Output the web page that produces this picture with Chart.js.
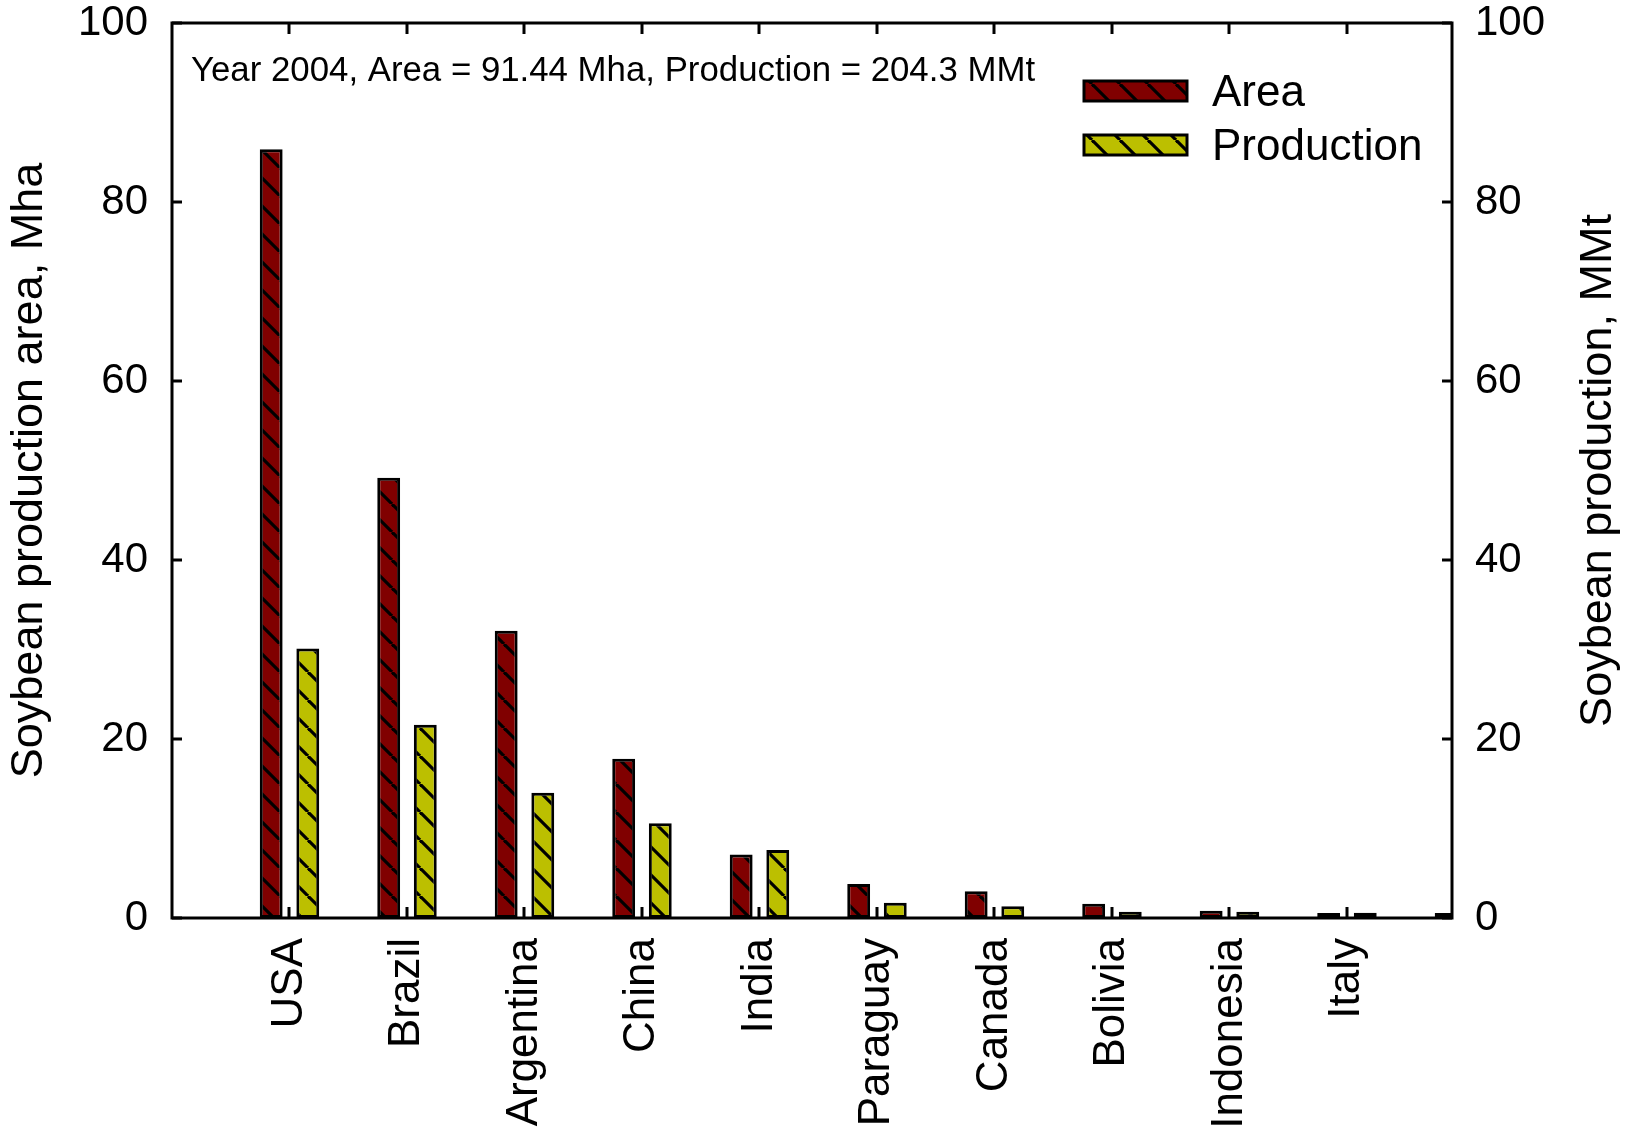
<!DOCTYPE html>
<html>
<head>
<meta charset="utf-8">
<script src="https://cdn.jsdelivr.net/npm/chart.js@4"></script>
<style>
  html, body { margin: 0; padding: 0; background: #fff; }
  #chart { display: block; }
</style>
</head>
<body>
<canvas id="chart" width="1638" height="1134"></canvas>
<script>
// Data
const categories = ['USA', 'Brazil', 'Argentina', 'China', 'India', 'Paraguay', 'Canada', 'Bolivia', 'Indonesia', 'Italy', ''];
const areaMha = [85.9, 49.2, 32.1, 17.8, 7.1, 3.8, 3.0, 1.6, 0.8, 0.55, 0.55];
const productionMMt = [30.1, 21.6, 14.0, 10.6, 7.6, 1.7, 1.3, 0.7, 0.7, 0.6, null];
const yTicks = [0, 20, 40, 60, 80, 100];
const noteText = 'Year 2004, Area = 91.44 Mha, Production = 204.3 MMt';
const rightTitle = 'Soybean production, MMt';

const FONT = "'Liberation Sans', Arial, Helvetica, sans-serif";

/**
 * Diagonal hatch pattern ("\" lines) over a solid fill
 */
function makeHatch(fill) {
    const size = 28;
    const c = document.createElement('canvas');
    c.width = size;
    c.height = size;
    const g = c.getContext('2d');
    g.fillStyle = fill;
    g.fillRect(0, 0, size, size);
    g.strokeStyle = '#000';
    g.lineWidth = 3.2;
    [-size, 0, size].forEach(off => {
        g.beginPath();
        g.moveTo(off, 0);
        g.lineTo(off + size, size);
        g.stroke();
    });
    return g.createPattern(c, 'repeat');
}

/**
 * Drop the label overhang padding so the plot box lands where we want it
 */
function noOverhang(s) {
    s.paddingTop = 0;
    s.paddingBottom = 0;
    s.paddingLeft = 0;
    s.paddingRight = 0;
}

const ctx = document.getElementById('chart').getContext('2d');
const areaFill = makeHatch('#800000');
const prodFill = makeHatch('#bcbf00');

// Frame, inward ticks, note, right title and legend
const framePlugin = {
    id: 'frame',
    afterDatasetsDraw(chart) {
        const { ctx, chartArea: a, scales } = chart;
        ctx.save();
        ctx.strokeStyle = '#000';
        ctx.lineWidth = 3;
        ctx.lineCap = 'square';
        const line = (x1, y1, x2, y2) => {
            ctx.beginPath();
            ctx.moveTo(x1, y1);
            ctx.lineTo(x2, y2);
            ctx.stroke();
        };
        ctx.strokeRect(a.left, a.top, a.right - a.left, a.bottom - a.top);

        ctx.lineCap = 'butt';
        scales.x.ticks.forEach(t => {
            const px = Math.round(scales.x.getPixelForValue(t.value));
            line(px, a.bottom, px, a.bottom - 11);
            line(px, a.top, px, a.top + 11);
        });
        scales.y.ticks.forEach(t => {
            const py = Math.round(scales.y.getPixelForValue(t.value));
            line(a.left, py, a.left + 10, py);
        });
        scales.y2.ticks.forEach(t => {
            const py = Math.round(scales.y2.getPixelForValue(t.value));
            line(a.right, py, a.right - 10, py);
        });

        // note
        ctx.fillStyle = '#000';
        ctx.font = '34.8px ' + FONT;
        ctx.textAlign = 'left';
        ctx.textBaseline = 'alphabetic';
        ctx.fillText(noteText, a.left + 19, 81);

        // right axis title, reading bottom to top
        ctx.save();
        ctx.font = '45px ' + FONT;
        ctx.textAlign = 'center';
        ctx.textBaseline = 'middle';
        ctx.translate(1599, (a.top + a.bottom) / 2);
        ctx.rotate(-Math.PI / 2);
        ctx.fillText(rightTitle, 0, 0);
        ctx.restore();

        // legend
        ctx.font = '44px ' + FONT;
        ctx.textAlign = 'left';
        ctx.textBaseline = 'middle';
        chart.data.datasets.forEach((ds, i) => {
            const y = 81 + i * 54;
            ctx.fillStyle = ds.backgroundColor;
            ctx.fillRect(1084, y, 103, 20);
            ctx.lineWidth = 3;
            ctx.strokeRect(1084, y, 103, 20);
            ctx.fillStyle = '#000';
            ctx.fillText(ds.label, 1212, y + 13);
        });
        ctx.restore();
    }
};

new Chart(ctx, {
    type: 'bar',
    data: {
        datasets: [
            {
                label: 'Area',
                data: categories.map((c, i) => ({ x: i + 1, y: areaMha[i] })),
                backgroundColor: areaFill,
                borderColor: '#000',
                borderWidth: 3,
                borderSkipped: false,
                yAxisID: 'y',
                clip: { left: 0, right: 0, top: 10, bottom: 0 }
            },
            {
                label: 'Production',
                data: categories.map((c, i) => ({ x: i + 1, y: productionMMt[i] })),
                backgroundColor: prodFill,
                borderColor: '#000',
                borderWidth: 3,
                borderSkipped: false,
                yAxisID: 'y2',
                clip: { left: 0, right: 0, top: 10, bottom: 0 }
            }
        ]
    },
    options: {
        responsive: false,
        animation: false,
        categoryPercentage: 0.623,
        barPercentage: 0.625,
        layout: { padding: { top: 23, left: 0, right: 0, bottom: 0 } },
        plugins: {
            legend: { display: false },
            tooltip: { enabled: false }
        },
        scales: {
            x: {
                type: 'linear',
                offset: false,
                min: 0,
                max: 10.894,
                grid: { display: false, drawTicks: false },
                border: { display: false },
                afterBuildTicks: s => {
                    s.ticks = categories
                        .map((c, i) => ({ value: i + 1 }))
                        .filter(t => t.value <= s.max);
                },
                afterFit: s => {
                    s.height = 1134 - 918;
                    noOverhang(s);
                },
                ticks: {
                    autoSkip: false,
                    minRotation: 90,
                    maxRotation: 90,
                    padding: 20,
                    color: '#000',
                    font: { family: FONT, size: 44 },
                    callback: v => categories[v - 1] || ''
                }
            },
            y: {
                position: 'left',
                min: 0,
                max: 100,
                grid: { display: false, drawTicks: false },
                border: { display: false },
                afterBuildTicks: s => { s.ticks = yTicks.map(v => ({ value: v })); },
                afterFit: s => {
                    s.width = 172;
                    noOverhang(s);
                },
                ticks: {
                    padding: 24,
                    color: '#000',
                    font: { family: FONT, size: 42 }
                },
                title: {
                    display: true,
                    text: 'Soybean production area, Mha',
                    color: '#000',
                    font: { family: FONT, size: 45 },
                    padding: { top: 3, bottom: 0 }
                }
            },
            y2: {
                position: 'right',
                min: 0,
                max: 100,
                grid: { display: false, drawTicks: false },
                border: { display: false },
                afterBuildTicks: s => { s.ticks = yTicks.map(v => ({ value: v })); },
                afterFit: s => {
                    s.width = 1638 - 1452;
                    noOverhang(s);
                },
                ticks: {
                    padding: 23,
                    color: '#000',
                    font: { family: FONT, size: 42 }
                }
            }
        }
    },
    plugins: [framePlugin]
});
</script>
</body>
</html>
